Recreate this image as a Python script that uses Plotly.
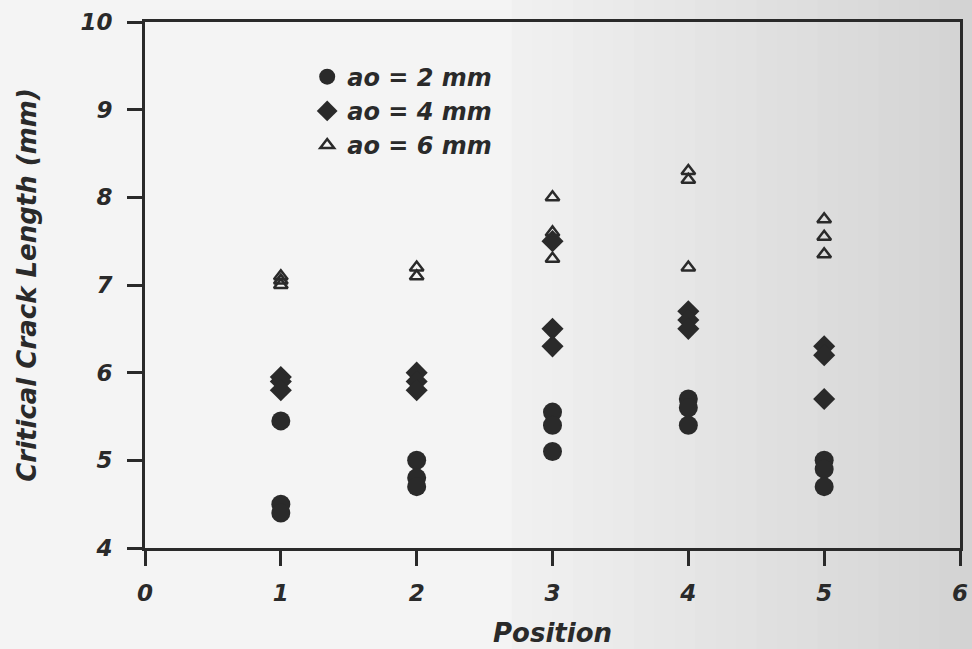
import plotly.graph_objects as go

# Data
pos_2mm = [1, 1, 1, 2, 2, 2, 3, 3, 3, 4, 4, 4, 5, 5, 5]
val_2mm = [5.45, 4.5, 4.4, 5.0, 4.8, 4.7, 5.55, 5.4, 5.1, 5.7, 5.6, 5.4, 5.0, 4.9, 4.7]

pos_4mm = [1, 1, 1, 2, 2, 2, 3, 3, 3, 4, 4, 4, 5, 5, 5]
val_4mm = [5.95, 5.9, 5.8, 6.0, 5.9, 5.8, 7.5, 6.5, 6.3, 6.7, 6.6, 6.5, 6.3, 6.2, 5.7]

pos_6mm = [1, 1, 1, 2, 2, 3, 3, 3, 4, 4, 4, 5, 5, 5]
val_6mm = [7.1, 7.05, 7.0, 7.2, 7.1, 8.0, 7.6, 7.3, 8.3, 8.2, 7.2, 7.75, 7.55, 7.35]

series_names = ["ao = 2 mm", "ao = 4 mm", "ao = 6 mm"]
x_ticks = [0, 1, 2, 3, 4, 5, 6]
y_ticks = [4, 5, 6, 7, 8, 9, 10]

FONT = "DejaVu Sans, Liberation Sans, Arial, sans-serif"
INK = "#2a2a2a"
BI = dict(weight="bold", style="italic")

fig = go.Figure()
fig.add_trace(go.Scatter(x=pos_2mm, y=val_2mm, mode="markers", name=series_names[0],
                         marker=dict(symbol="circle", size=19, color=INK)))
fig.add_trace(go.Scatter(x=pos_4mm, y=val_4mm, mode="markers", name=series_names[1],
                         marker=dict(symbol="diamond", size=17, color=INK)))
fig.add_trace(go.Scatter(x=pos_6mm, y=val_6mm, mode="markers", name=series_names[2],
                         marker=dict(symbol="triangle-up-open", size=12, color=INK,
                                     line=dict(width=2.5, color=INK))))

# scanned-paper background shading (light on the left, greyer to the right)
shapes = [dict(type="rect", xref="paper", yref="paper", x0=-0.2, x1=1.05, y0=-0.3, y1=1.1,
               fillcolor="#f4f4f4", line_width=0, layer="below")]
nb = 24
for i in range(nb):
    x0 = 0.45 + i * (0.6 / nb)
    g = int(0xf2 - (0xf2 - 0xd2) * (i + 1) / nb)
    shapes.append(dict(type="rect", xref="paper", yref="paper", x0=x0, x1=1.05, y0=-0.3, y1=1.1,
                       fillcolor="#%02x%02x%02x" % (g, g, g), line_width=0, layer="below"))

fig.update_layout(
    width=972, height=649,
    margin=dict(l=145, r=12, t=22, b=101, autoexpand=False),
    paper_bgcolor="#f4f4f4",
    plot_bgcolor="rgba(0,0,0,0)",
    shapes=shapes,
    font=dict(family=FONT, color=INK),
    showlegend=True,
    legend=dict(x=0.199, y=0.938, xanchor="left", yanchor="top",
                bgcolor="rgba(0,0,0,0)", borderwidth=0,
                font=dict(family=FONT, size=24, color=INK, **BI),
                itemsizing="trace", tracegroupgap=0),
    xaxis=dict(range=[0, 6], tickvals=x_ticks, ticktext=[str(v) for v in x_ticks],
               showgrid=False, zeroline=False, automargin=False,
               showline=True, linecolor=INK, linewidth=3, mirror=True,
               ticks="outside", ticklen=15, tickwidth=3, tickcolor=INK,
               ticklabelstandoff=7,
               tickfont=dict(family=FONT, size=23, color=INK, **BI),
               title=dict(text="Position", standoff=20,
                          font=dict(family=FONT, size=26, color=INK, **BI))),
    yaxis=dict(range=[4, 10], tickvals=y_ticks, ticktext=[str(v) for v in y_ticks],
               showgrid=False, zeroline=False, automargin=False,
               showline=True, linecolor=INK, linewidth=3, mirror=True,
               ticks="outside", ticklen=15, tickwidth=3, tickcolor=INK,
               ticklabelstandoff=10,
               tickfont=dict(family=FONT, size=23, color=INK, **BI),
               title=dict(text="Critical Crack Length (mm)", standoff=37,
                          font=dict(family=FONT, size=26, color=INK, **BI))),
)

fig.write_html("out.html", config={"displayModeBar": False},
               post_script="document.body.style.margin='0';document.body.style.padding='0';"
                           "document.body.style.overflow='hidden';")
